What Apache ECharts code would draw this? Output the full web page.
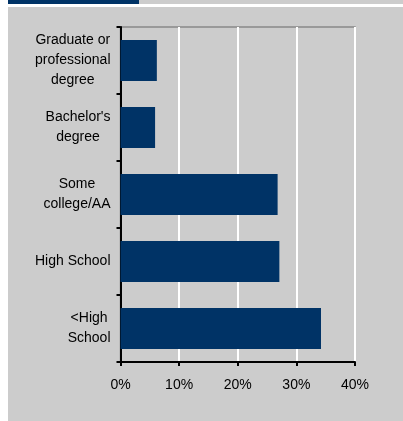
<!DOCTYPE html>
<html>
<head>
<meta charset="utf-8">
<script src="https://cdn.jsdelivr.net/npm/echarts@6/dist/echarts.min.js"></script>
<style>
html,body{margin:0;padding:0;background:#fff;}
#chart{width:403px;height:421px;}
</style>
</head>
<body>
<div id="chart"></div>
<script>
const categories = ['Graduate or\nprofessional\ndegree', "Bachelor's\ndegree", 'Some\ncollege/AA', 'High School', '<High\nSchool'];
const values = [6.2, 5.9, 26.8, 27.1, 34.2];
const xTicks = [0, 10, 20, 30, 40];

const chart = echarts.init(document.getElementById('chart'), null, {renderer: 'canvas'});
chart.setOption({
  backgroundColor: '#ffffff',
  animation: false,
  graphic: [
    {type: 'rect', z: -10, shape: {x: 8, y: 7, width: 395, height: 414}, style: {fill: '#cccccc'}},
    {type: 'rect', z: -10, shape: {x: 8, y: 0, width: 131, height: 4}, style: {fill: '#003366'}},
    {type: 'rect', z: -10, shape: {x: 139, y: 0, width: 264, height: 4}, style: {fill: '#cccccc'}}
  ],
  grid: {
    left: 120.5, right: 48, top: 27, bottom: 59,
    show: true, backgroundColor: '#cccccc', borderColor: '#888888', borderWidth: 1.5
  },
  xAxis: {
    type: 'value', min: xTicks[0], max: xTicks[xTicks.length - 1], interval: 10,
    axisLine: {show: true, onZero: false, lineStyle: {color: '#000', width: 2}},
    axisTick: {show: true, length: 4, lineStyle: {color: '#000', width: 2}},
    splitLine: {show: true, lineStyle: {color: '#ffffff', width: 2}},
    axisLabel: {
      formatter: v => v + '%', margin: 16,
      fontFamily: 'Liberation Sans, Arial, sans-serif', fontSize: 14, color: '#000'
    }
  },
  yAxis: {
    type: 'category', data: categories, inverse: true,
    axisLine: {show: true, lineStyle: {color: '#000', width: 2}},
    axisTick: {show: true, length: 4, lineStyle: {color: '#000', width: 2}},
    axisLabel: {
      margin: 10, align: 'right',
      fontFamily: 'Liberation Sans, Arial, sans-serif', fontSize: 14, color: '#000', lineHeight: 20,
      formatter: v => v.split('\n').map(l => '{c|' + l + '}').join('\n'),
      rich: {c: {align: 'center', fontFamily: 'Liberation Sans, Arial, sans-serif', fontSize: 14, color: '#000', lineHeight: 20}}
    }
  },
  series: [{
    type: 'bar', data: values, barWidth: '61%',
    itemStyle: {color: '#003366'}
  }]
});
</script>
</body>
</html>
